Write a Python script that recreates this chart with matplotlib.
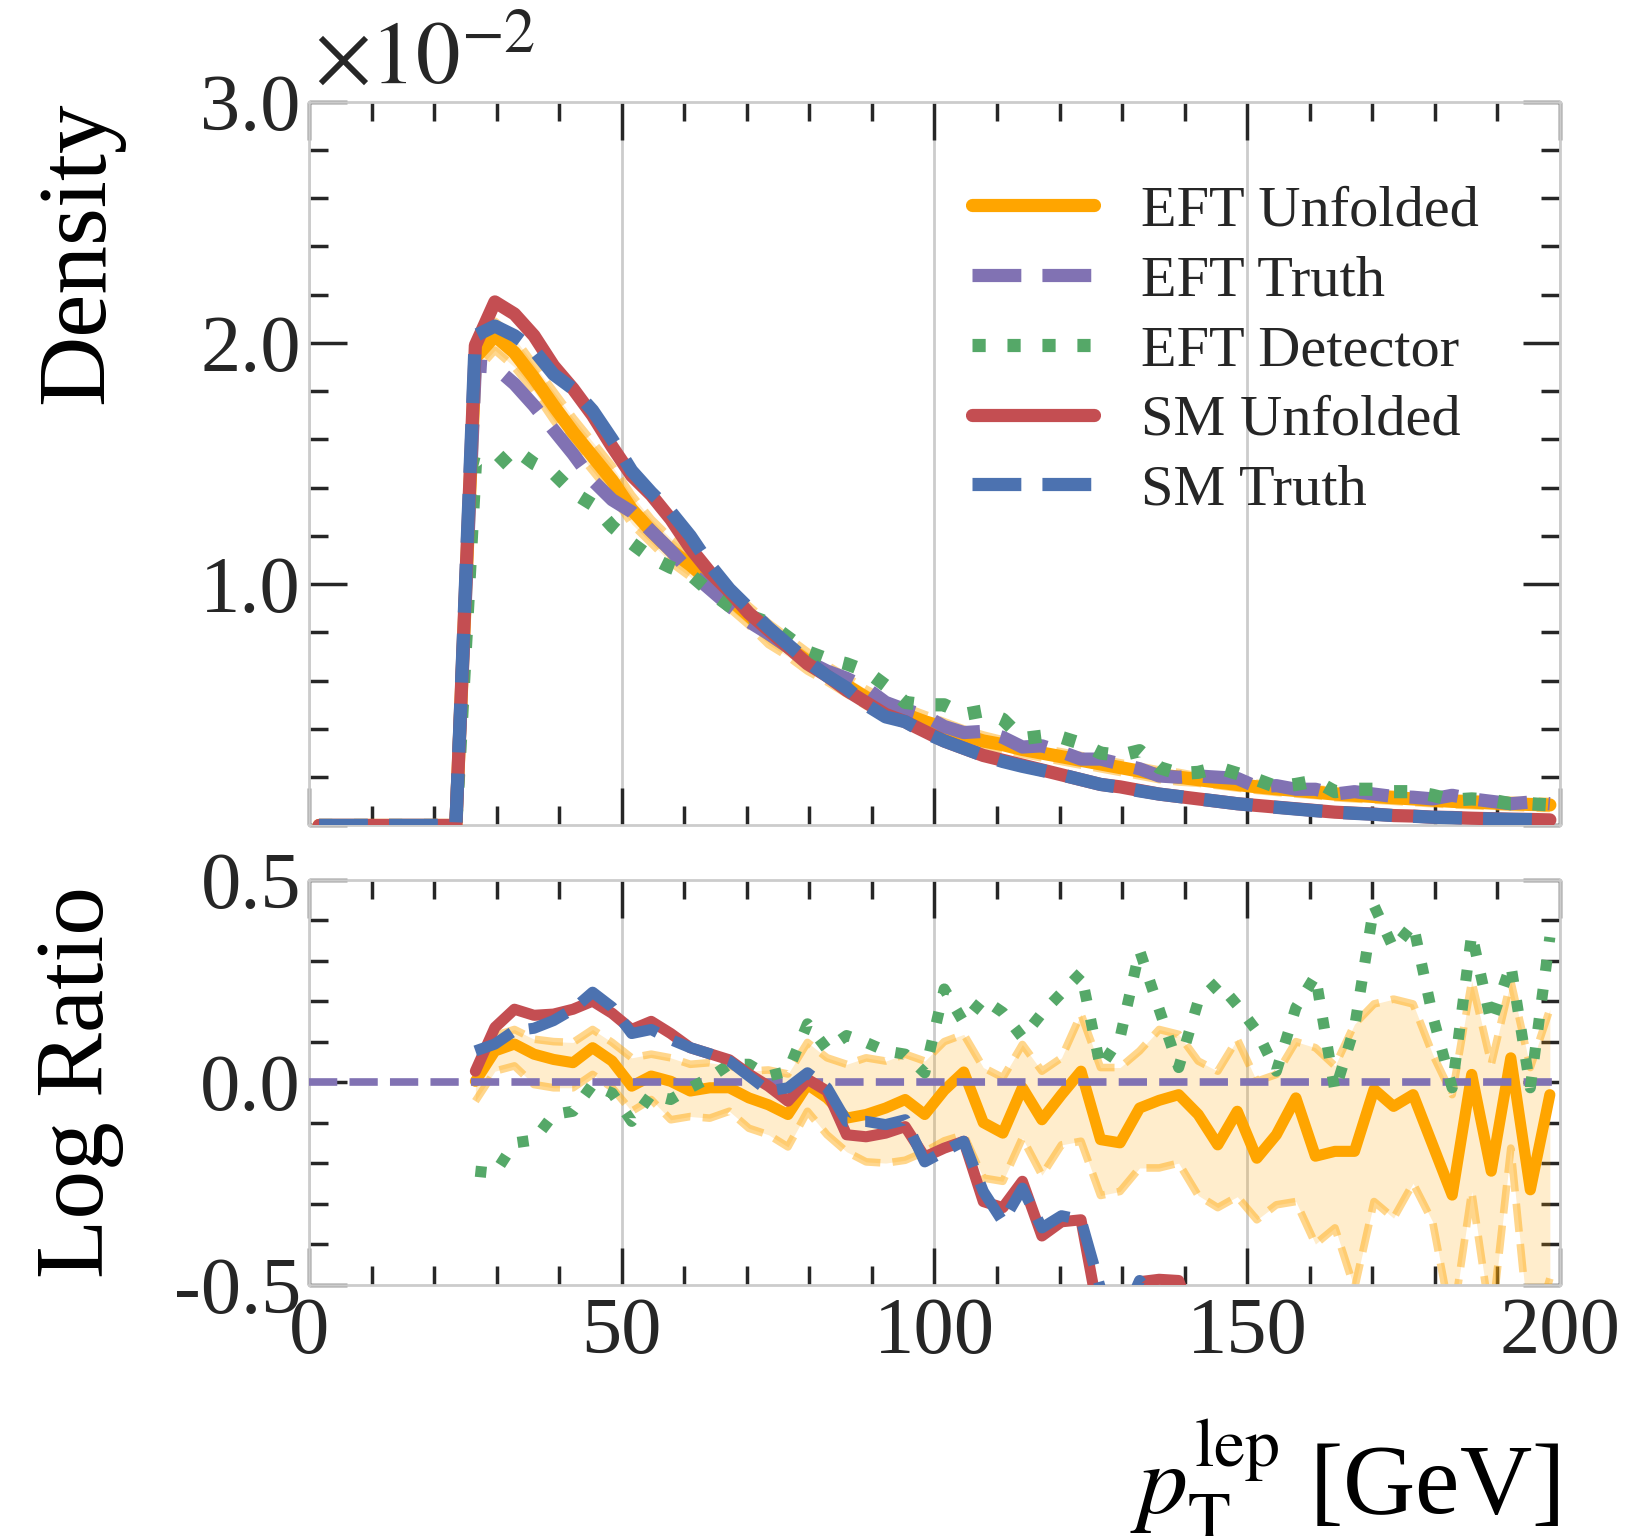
import numpy as np
import matplotlib
matplotlib.use("Agg")
import matplotlib.pyplot as plt
from matplotlib.ticker import MultipleLocator, FixedLocator, FuncFormatter

plt.rcParams['font.family'] = ['Liberation Serif', 'DejaVu Serif']
plt.rcParams['mathtext.fontset'] = 'stix'
plt.rcParams['axes.unicode_minus'] = False

# ---------------- data ----------------
bin_edges = np.linspace(0, 200, 65)          # 64 bins of 3.125 GeV
n_empty = 8                                   # bins below the 25 GeV cut (empty)

# densities, in units of 1e-2, for the non-empty bins (26.6 ... 198.4 GeV)
eft_unfolded = [1.94, 2.03, 1.96, 1.855, 1.74, 1.63, 1.53, 1.43, 1.31, 1.22,
                1.14, 1.08, 1.01, 0.94, 0.87, 0.795, 0.74, 0.68, 0.63, 0.58,
                0.53, 0.49, 0.46, 0.43, 0.405, 0.375, 0.35, 0.335, 0.315, 0.30,
                0.285, 0.27, 0.255, 0.24, 0.225, 0.21, 0.20, 0.19, 0.18, 0.17,
                0.16, 0.152, 0.145, 0.138, 0.13, 0.125, 0.12, 0.115, 0.11, 0.105,
                0.10, 0.097, 0.093, 0.09, 0.087, 0.085]
eft_unfolded_hi = [1.99, 2.09, 2.02, 1.91, 1.80, 1.69, 1.59, 1.49, 1.37, 1.27,
                   1.19, 1.13, 1.05, 0.98, 0.91, 0.84, 0.78, 0.72, 0.665, 0.615,
                   0.565, 0.52, 0.49, 0.46, 0.43, 0.40, 0.375, 0.355, 0.335, 0.32,
                   0.305, 0.29, 0.275, 0.26, 0.245, 0.23, 0.22, 0.205, 0.195, 0.185,
                   0.175, 0.167, 0.16, 0.152, 0.145, 0.14, 0.135, 0.13, 0.125, 0.12,
                   0.115, 0.112, 0.108, 0.105, 0.102, 0.10]
eft_unfolded_lo = [1.88, 1.97, 1.90, 1.80, 1.68, 1.57, 1.47, 1.37, 1.25, 1.17,
                   1.09, 1.03, 0.97, 0.90, 0.83, 0.75, 0.70, 0.64, 0.595, 0.545,
                   0.495, 0.46, 0.43, 0.40, 0.38, 0.35, 0.325, 0.315, 0.295, 0.28,
                   0.265, 0.25, 0.235, 0.22, 0.205, 0.19, 0.18, 0.175, 0.165, 0.155,
                   0.145, 0.137, 0.13, 0.124, 0.115, 0.11, 0.105, 0.10, 0.095, 0.09,
                   0.085, 0.082, 0.078, 0.075, 0.072, 0.07]
eft_truth = [1.905, 1.90, 1.83, 1.74, 1.64, 1.54, 1.43, 1.35, 1.30, 1.22,
             1.14, 1.05, 0.98, 0.91, 0.845, 0.795, 0.74, 0.68, 0.64, 0.61,
             0.57, 0.51, 0.48, 0.455, 0.41, 0.385, 0.39, 0.365, 0.325, 0.33,
             0.305, 0.275, 0.275, 0.255, 0.235, 0.205, 0.20, 0.205, 0.20, 0.195,
             0.16, 0.165, 0.15, 0.15, 0.13, 0.14, 0.13, 0.12, 0.117, 0.11,
             0.125, 0.11, 0.10, 0.09, 0.097, 0.09]
eft_detector = [1.50, 1.48, 1.56, 1.50, 1.46, 1.38, 1.33, 1.24, 1.17, 1.11,
                1.07, 1.04, 0.97, 0.91, 0.87, 0.84, 0.78, 0.72, 0.69, 0.67,
                0.64, 0.58, 0.51, 0.50, 0.50, 0.46, 0.475, 0.44, 0.36, 0.37,
                0.365, 0.34, 0.30, 0.29, 0.31, 0.24, 0.215, 0.22, 0.24, 0.215,
                0.19, 0.16, 0.17, 0.185, 0.14, 0.15, 0.15, 0.14, 0.14, 0.125,
                0.105, 0.11, 0.105, 0.09, 0.09, 0.085]
sm_unfolded = [1.99, 2.17, 2.12, 2.03, 1.905, 1.81, 1.70, 1.57, 1.45, 1.37,
               1.27, 1.15, 1.05, 0.97, 0.88, 0.81, 0.74, 0.67, 0.62, 0.56,
               0.51, 0.46, 0.43, 0.39, 0.35, 0.32, 0.29, 0.27, 0.25, 0.23,
               0.21, 0.19, 0.17, 0.16, 0.145, 0.13, 0.12, 0.11, 0.10, 0.09,
               0.083, 0.076, 0.069, 0.062, 0.055, 0.051, 0.047, 0.041, 0.039, 0.034,
               0.033, 0.030, 0.028, 0.026, 0.025, 0.023]
sm_truth = [2.03, 2.07, 2.03, 1.97, 1.87, 1.81, 1.72, 1.60, 1.47, 1.38,
            1.30, 1.20, 1.08, 0.98, 0.90, 0.82, 0.75, 0.68, 0.62, 0.57,
            0.50, 0.45, 0.43, 0.385, 0.35, 0.32, 0.29, 0.265, 0.245, 0.228,
            0.21, 0.19, 0.17, 0.158, 0.143, 0.13, 0.12, 0.11, 0.10, 0.09,
            0.082, 0.075, 0.068, 0.061, 0.055, 0.05, 0.046, 0.041, 0.038, 0.034,
            0.032, 0.029, 0.027, 0.025, 0.024, 0.022]

# log ratios with respect to EFT Truth (non-empty bins)
lr_eft_unfolded = [0.002, 0.077, 0.094, 0.069, 0.056, 0.048, 0.085, 0.052, -0.01, 0.015,
                   0.002, -0.022, -0.014, -0.014, -0.039, -0.056, -0.08, -0.006, -0.039, -0.089,
                   -0.08, -0.064, -0.043, -0.08, -0.02, 0.025, -0.10, -0.126, -0.014, -0.093,
                   -0.031, 0.027, -0.142, -0.15, -0.064, -0.045, -0.031, -0.08, -0.155, -0.072,
                   -0.188, -0.13, -0.039, -0.183, -0.171, -0.171, -0.018, -0.06, -0.031, -0.155,
                   -0.279, 0.019, -0.22, 0.06, -0.266, -0.031]
lr_eft_unfolded_hi = [0.035, 0.115, 0.13, 0.106, 0.10, 0.098, 0.13, 0.098, 0.06, 0.069,
                      0.06, 0.044, 0.048, 0.04, 0.027, 0.03, 0.02, 0.098, 0.06, 0.044,
                      0.06, 0.052, 0.069, 0.052, 0.10, 0.118, 0.036, 0.011, 0.093, 0.027,
                      0.06, 0.168, 0.036, 0.036, 0.077, 0.13, 0.118, 0.052, 0.027, 0.106,
                      0.002, 0.019, 0.10, 0.085, 0.04, 0.143, 0.193, 0.205, 0.193, 0.069,
                      -0.031, 0.25, 0.044, 0.25, 0.036, 0.18]
lr_eft_unfolded_lo = [-0.047, 0.027, 0.04, -0.006, -0.014, -0.014, 0.019, -0.014, -0.072, -0.043,
                      -0.093, -0.085, -0.089, -0.072, -0.114, -0.13, -0.16, -0.072, -0.13, -0.172,
                      -0.197, -0.20, -0.193, -0.172, -0.145, -0.13, -0.237, -0.245, -0.138, -0.23,
                      -0.155, -0.146, -0.28, -0.27, -0.212, -0.212, -0.20, -0.28, -0.31, -0.283,
                      -0.34, -0.303, -0.295, -0.40, -0.36, -0.51, -0.295, -0.336, -0.25, -0.345,
                      -0.60, -0.27, -0.60, -0.163, -0.65, -0.485]
lr_eft_detector = [-0.22, -0.225, -0.15, -0.143, -0.08, -0.072, -0.006, -0.027, -0.097, -0.031,
                   -0.043, -0.014, 0.011, 0.044, 0.044, 0.015, 0.027, 0.144, 0.081, 0.115,
                   0.098, 0.077, 0.069, 0.023, 0.23, 0.147, 0.205, 0.172, 0.11, 0.17,
                   0.22, 0.27, 0.036, 0.11, 0.325, 0.18, 0.036, 0.2, 0.246, 0.19,
                   0.126, 0.027, 0.184, 0.263, -0.022, 0.135, 0.436, 0.33, 0.39, 0.164,
                   -0.014, 0.366, 0.147, 0.29, -0.014, 0.358]
lr_sm_unfolded = [0.027, 0.135, 0.18, 0.165, 0.168, 0.18, 0.20, 0.17, 0.13, 0.15,
                  0.12, 0.085, 0.07, 0.055, 0.02, -0.01, -0.047, 0.007, -0.022, -0.13,
                  -0.135, -0.126, -0.11, -0.185, -0.163, -0.146, -0.295, -0.31, -0.245, -0.38,
                  -0.345, -0.34, -0.60, -0.65, -0.493, -0.487, -0.49, -0.62, -0.69, -0.75,
                  -0.66, -0.78, -0.77, -0.88, -0.86, -0.95, -0.94, -1.0, -1.1, -1.2,
                  -1.3, -1.2, -1.3, -1.25, -1.35, -1.4]
lr_sm_truth = [0.077, 0.094, 0.127, 0.133, 0.152, 0.18, 0.222, 0.185, 0.12, 0.13,
               0.105, 0.085, 0.07, 0.052, 0.015, -0.022, -0.014, 0.023, -0.014, -0.097,
               -0.097, -0.105, -0.093, -0.197, -0.171, -0.146, -0.27, -0.345, -0.262, -0.36,
               -0.33, -0.34, -0.51, -0.6, -0.49, -0.55, -0.6, -0.65, -0.7, -0.75,
               -0.7, -0.8, -0.8, -0.9, -0.87, -0.95, -0.95, -1.0, -1.1, -1.2,
               -1.3, -1.2, -1.3, -1.3, -1.35, -1.4]

labels = ["EFT Unfolded", "EFT Truth", "EFT Detector", "SM Unfolded", "SM Truth"]
x_ticks = [0, 50, 100, 150, 200]
y_ticks_main = [0.0, 1.0, 2.0, 3.0]
y_ticks_ratio = [-0.5, 0.0, 0.5]
density_scale = 1e-2

# ---------------- styling ----------------
C_ORANGE = '#FFA500'
C_PURPLE = '#8172B3'
C_GREEN = '#55A868'
C_RED = '#C44E52'
C_BLUE = '#4C72B0'
TXT = '#262626'
GRIDC = '#cccccc'

centers = 0.5 * (bin_edges[:-1] + bin_edges[1:])
xc = centers[n_empty:]

def full(vals):
    return np.concatenate([np.zeros(n_empty), np.asarray(vals)]) * density_scale

fig = plt.figure(figsize=(16.28, 15.36), dpi=100)
ax = fig.add_axes([0.190, 0.4626, 0.768, 0.4712])
rax = fig.add_axes([0.190, 0.1637, 0.768, 0.2636], sharex=ax)

LW = 9.5
# main panel
ax.fill_between(centers, full(eft_unfolded_lo), full(eft_unfolded_hi),
                color=C_ORANGE, alpha=0.2, lw=0, zorder=2)
ax.plot(centers, full(eft_unfolded_lo), color=C_ORANGE, alpha=0.45, lw=5.5, ls='--', zorder=2)
ax.plot(centers, full(eft_unfolded_hi), color=C_ORANGE, alpha=0.45, lw=5.5, ls='--', zorder=2)
l1, = ax.plot(centers, full(eft_unfolded), color=C_ORANGE, lw=LW, ls='-',
              solid_capstyle='round', solid_joinstyle='round', zorder=3)
l2, = ax.plot(centers, full(eft_truth), color=C_PURPLE, lw=LW, ls='--', zorder=4)
l3, = ax.plot(centers, full(eft_detector), color=C_GREEN, lw=LW, ls=':', zorder=5)
l4, = ax.plot(centers, full(sm_unfolded), color=C_RED, lw=LW, ls='-',
              solid_capstyle='round', solid_joinstyle='round', zorder=6)
l5, = ax.plot(centers, full(sm_truth), color=C_BLUE, lw=LW, ls='--', zorder=7)

# ratio panel
RLW = 8
rax.fill_between(xc, lr_eft_unfolded_lo, lr_eft_unfolded_hi,
                 color=C_ORANGE, alpha=0.2, lw=0, zorder=2)
rax.plot(xc, lr_eft_unfolded_lo, color=C_ORANGE, alpha=0.45, lw=5.5, ls='--', zorder=2)
rax.plot(xc, lr_eft_unfolded_hi, color=C_ORANGE, alpha=0.45, lw=5.5, ls='--', zorder=2)
rax.plot(xc, lr_eft_unfolded, color=C_ORANGE, lw=RLW, solid_capstyle='round',
         solid_joinstyle='round', zorder=3)
rax.axhline(0, color=C_PURPLE, lw=5.5, ls='--', zorder=4)
rax.plot(xc, lr_eft_detector, color=C_GREEN, lw=RLW, ls=':', zorder=5)
rax.plot(xc, lr_sm_unfolded, color=C_RED, lw=RLW, solid_capstyle='round',
         solid_joinstyle='round', zorder=6)
rax.plot(xc, lr_sm_truth, color=C_BLUE, lw=RLW, ls='--', zorder=7)

# axes limits and ticks
ax.set_xlim(0, 200)
ax.set_ylim(0, 3.0 * density_scale)
rax.set_ylim(-0.5, 0.5)

TICKSIZE = 58
for a in (ax, rax):
    a.xaxis.set_major_locator(FixedLocator(x_ticks))
    a.xaxis.set_minor_locator(MultipleLocator(10))
    a.tick_params(which='both', direction='in', top=True, right=True,
                  color=TXT, width=2.5, labelcolor=TXT, labelsize=TICKSIZE)
    a.tick_params(which='major', length=27)
    a.tick_params(which='minor', length=14)
    a.tick_params(axis='y', pad=6)
    a.tick_params(axis='x', pad=9)
    for s in a.spines.values():
        s.set_color(GRIDC)
        s.set_linewidth(2)
    a.grid(axis='x', color=GRIDC, lw=2, zorder=0)
    a.set_axisbelow(True)

ax.yaxis.set_major_locator(FixedLocator([v * density_scale for v in y_ticks_main]))
ax.yaxis.set_minor_locator(MultipleLocator(0.2 * density_scale))
ax.yaxis.set_major_formatter(FuncFormatter(
    lambda v, p: '' if abs(v) < 1e-12 else f'{v / density_scale:.1f}'))
ax.tick_params(axis='x', labelbottom=False)

rax.yaxis.set_major_locator(FixedLocator(y_ticks_ratio))
rax.yaxis.set_minor_locator(MultipleLocator(0.1))
rax.yaxis.set_major_formatter(FuncFormatter(lambda v, p: f'{v:.1f}'))
rax.xaxis.set_major_formatter(FuncFormatter(lambda v, p: f'{v:.0f}'))

# offset text
ax.text(0.004, 1.0, r'$\times10^{-2}$', transform=ax.transAxes,
        ha='left', va='bottom', fontsize=64, color=TXT)

# labels
ax.set_ylabel('Density', fontsize=70, loc='top', color='black')
rax.set_ylabel('Log Ratio', fontsize=70, color='black')
ax.yaxis.set_label_coords(-0.148, 1.0)
rax.yaxis.set_label_coords(-0.148, 0.5)
rax.set_xlabel(r'$p_{\mathrm{T}}^{\mathrm{lep}}$ [GeV]', fontsize=72, loc='right', color='black')
rax.xaxis.set_label_coords(1.0, -0.325)

# legend
leg = ax.legend([l1, l2, l3, l4, l5], labels, loc='upper left',
                bbox_to_anchor=(0.53, 0.885), frameon=False, fontsize=42,
                handlelength=2.1, handletextpad=0.8, labelspacing=0.29,
                borderpad=0, borderaxespad=0)
for t in leg.get_texts():
    t.set_color(TXT)

fig.savefig('out.png', dpi=100)
